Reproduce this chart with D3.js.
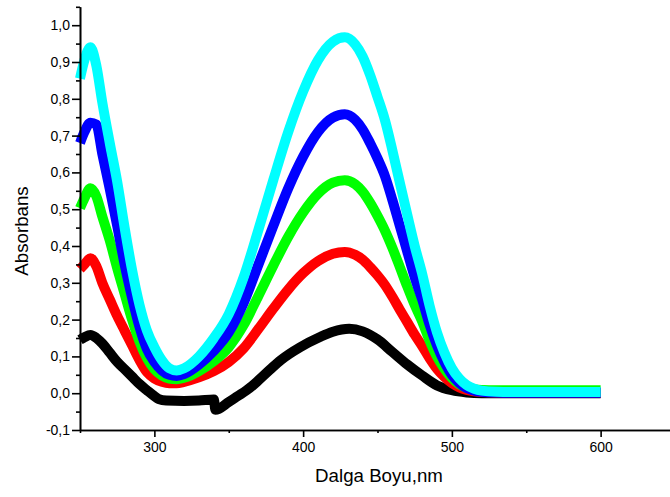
<!DOCTYPE html>
<html>
<head>
<meta charset="utf-8">
<script src="https://cdn.jsdelivr.net/npm/d3@7"></script>
<style>
  html, body { margin: 0; padding: 0; background: #fff; }
  svg { display: block; }
  text { font-family: "Liberation Sans", Arial, sans-serif; fill: #000; }
</style>
</head>
<body>
<svg id="chart" width="670" height="497"></svg>
<script>
// ---- data ----
const wavelengths = [250, 253, 257, 261, 265, 270, 275, 280, 285, 290, 295, 300, 305, 310, 315, 320, 330, 340, 350, 360, 370, 380, 390, 400, 410, 420, 428, 435, 440, 445, 450, 455, 460, 465, 470, 475, 480, 485, 490, 495, 500, 505, 510, 515, 520, 530, 550, 575, 600];

const redValues = [0.337, 0.35, 0.367, 0.345, 0.30, 0.255, 0.21, 0.17, 0.13, 0.09, 0.057, 0.04, 0.031, 0.027, 0.027, 0.031, 0.043, 0.06, 0.085, 0.122, 0.175, 0.23, 0.282, 0.326, 0.359, 0.379, 0.384, 0.376, 0.363, 0.343, 0.32, 0.294, 0.262, 0.227, 0.193, 0.159, 0.128, 0.095, 0.066, 0.044, 0.027, 0.016, 0.009, 0.005, 0.003, 0.002, 0.002, 0.002, 0.002];

const greenValues = [0.503, 0.53, 0.557, 0.535, 0.48, 0.415, 0.34, 0.27, 0.20, 0.14, 0.095, 0.065, 0.048, 0.04, 0.038, 0.042, 0.06, 0.087, 0.125, 0.185, 0.265, 0.347, 0.425, 0.491, 0.542, 0.572, 0.579, 0.568, 0.548, 0.518, 0.482, 0.442, 0.395, 0.343, 0.29, 0.24, 0.195, 0.143, 0.099, 0.066, 0.041, 0.024, 0.015, 0.011, 0.009, 0.008, 0.008, 0.008, 0.008];

const blueValues = [0.68, 0.71, 0.735, 0.73, 0.65, 0.555, 0.455, 0.35, 0.26, 0.18, 0.12, 0.085, 0.062, 0.05, 0.047, 0.052, 0.078, 0.115, 0.165, 0.245, 0.35, 0.455, 0.557, 0.643, 0.71, 0.749, 0.758, 0.743, 0.717, 0.68, 0.638, 0.59, 0.525, 0.455, 0.385, 0.315, 0.255, 0.187, 0.13, 0.085, 0.05, 0.028, 0.014, 0.007, 0.004, 0.002, 0.001, 0.001, 0.001];

const cyanValues = [0.855, 0.905, 0.94, 0.89, 0.79, 0.68, 0.575, 0.45, 0.335, 0.24, 0.17, 0.125, 0.09, 0.068, 0.062, 0.068, 0.10, 0.15, 0.215, 0.315, 0.445, 0.58, 0.71, 0.82, 0.905, 0.955, 0.967, 0.948, 0.915, 0.865, 0.805, 0.742, 0.66, 0.572, 0.485, 0.40, 0.325, 0.238, 0.165, 0.11, 0.068, 0.04, 0.022, 0.012, 0.007, 0.004, 0.003, 0.003, 0.003];

const blackWavelengths = [250, 253, 257, 261, 265, 270, 275, 280, 285, 290, 295, 300, 303, 308, 320, 330, 340, 341, 350, 356, 362, 364, 370, 378, 385, 398, 411, 420, 431, 440, 450, 460, 470, 480, 490, 500, 510, 520, 540, 570, 600];
const blackValues = [0.145, 0.152, 0.158, 0.15, 0.135, 0.11, 0.085, 0.065, 0.045, 0.025, 0.008, -0.008, -0.016, -0.02, -0.021, -0.02, -0.017, -0.045, -0.024, -0.008, 0.008, 0.014, 0.035, 0.065, 0.09, 0.125, 0.152, 0.167, 0.175, 0.168, 0.146, 0.112, 0.078, 0.048, 0.021, 0.008, 0.002, 0.0, 0.0, 0.0, 0.0];

const xMajorTicks = [300, 400, 500, 600];
const xMinorTicks = [250, 350, 450, 550, 650];
const yMajorTicks = [-0.1, 0.0, 0.1, 0.2, 0.3, 0.4, 0.5, 0.6, 0.7, 0.8, 0.9, 1.0];
const yMinorTicks = [-0.05, 0.05, 0.15, 0.25, 0.35, 0.45, 0.55, 0.65, 0.75, 0.85, 0.95, 1.05];

const xTitle = "Dalga Boyu,nm";
const yTitle = "Absorbans";

// series in drawing order (last on top)
const series = [
  { name: "black", color: "#000000", x: blackWavelengths, y: blackValues },
  { name: "red",   color: "#ff0000", x: wavelengths, y: redValues },
  { name: "green", color: "#00ff00", x: wavelengths, y: greenValues },
  { name: "blue",  color: "#0000ff", x: wavelengths, y: blueValues },
  { name: "cyan",  color: "#00ffff", x: wavelengths, y: cyanValues }
];

// ---- drawing ----
const svg = d3.select("#chart");
const x = d3.scaleLinear().domain([250, 650]).range([80, 675]);
const y = d3.scaleLinear().domain([-0.1, 1.05]).range([430, 6.8]);

const fmt = d => d.toFixed(1).replace(".", ",");

const line = d3.line()
  .x(d => x(d[0]))
  .y(d => y(d[1]))
  .curve(d3.curveMonotoneX);

svg.append("g").selectAll("path")
  .data(series)
  .join("path")
  .attr("fill", "none")
  .attr("stroke", s => s.color)
  .attr("stroke-width", 10)
  .attr("d", s => line(s.x.map((w, i) => [w, s.y[i]])));

// y axis
const yAxisG = svg.append("g").attr("transform", "translate(80,0)");
yAxisG.call(d3.axisLeft(y).tickValues(yMajorTicks).tickFormat(fmt).tickSize(8).tickSizeOuter(0).tickPadding(2));
yAxisG.append("g").call(d3.axisLeft(y).tickValues(yMinorTicks).tickFormat("").tickSize(4).tickSizeOuter(0));

// x axis
const xAxisG = svg.append("g").attr("transform", "translate(0,430)");
xAxisG.call(d3.axisBottom(x).tickValues(xMajorTicks).tickFormat(d3.format("d")).tickSize(7).tickSizeOuter(0).tickPadding(5));
xAxisG.append("g").call(d3.axisBottom(x).tickValues(xMinorTicks).tickFormat("").tickSize(3).tickSizeOuter(0));

svg.selectAll(".domain").attr("stroke", "#000").attr("stroke-width", 1.6);
svg.selectAll(".tick line").attr("stroke", "#000").attr("stroke-width", 1.6);
svg.selectAll(".tick text")
  .style("font-family", "'Liberation Sans', Arial, sans-serif")
  .style("font-size", "14px")
  .attr("fill", "#000");

// titles
svg.append("text")
  .attr("x", 379).attr("y", 482)
  .attr("text-anchor", "middle")
  .style("font-size", "18.7px")
  .text(xTitle);

svg.append("text")
  .attr("transform", "translate(28,231) rotate(-90)")
  .attr("text-anchor", "middle")
  .style("font-size", "18.7px")
  .text(yTitle);
</script>
</body>
</html>
